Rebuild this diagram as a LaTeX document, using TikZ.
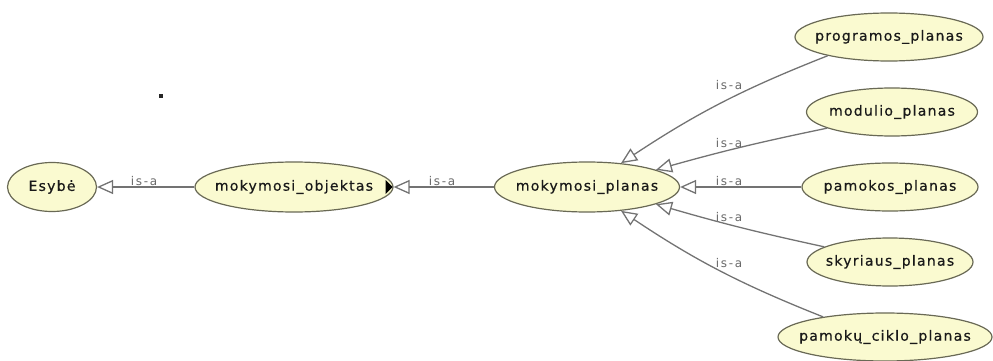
\documentclass[tikz,border=0pt]{standalone}
\usepackage{fontspec}
\setmainfont{DejaVu Sans}
\newfontfamily\nodefont[LetterSpace=9,FakeBold=0.5]{DejaVu Sans}
\newfontfamily\labelfont[LetterSpace=14]{DejaVu Sans}
\usetikzlibrary{arrows.meta,shapes.geometric,calc}
\definecolor{clsfill}{RGB}{250,250,208}
\definecolor{clsborder}{RGB}{105,105,85}
\definecolor{clstext}{RGB}{25,25,25}
\definecolor{edgecol}{RGB}{115,115,115}
\definecolor{lblcol}{RGB}{105,105,105}
\tikzset{
  cls/.style={ellipse, draw=clsborder, fill=clsfill, line width=1.2pt,
    inner xsep=-40pt, inner ysep=-12pt,
    font=\nodefont\fontsize{14}{16}\selectfont, text=clstext},
  isa/.style={draw=edgecol, line width=1.3pt, -{Triangle[open,length=16pt,width=14pt]}},
  lbl/.style={font=\labelfont\fontsize{12}{14}\selectfont, text=lblcol, inner sep=0pt}
}
\begin{document}
\begin{tikzpicture}[x=1pt,y=-1pt]
\useasboundingbox (0,0) rectangle (993,361);
\node[cls, minimum width=89pt, minimum height=49pt] (esy) at (52,187) {Esybė};
\node[cls, minimum width=198pt, minimum height=50pt] (obj) at (294,187) {mokymosi\_objektas};
\node[cls, minimum width=185pt, minimum height=50pt] (plan) at (587,187) {mokymosi\_planas};
\node[cls, minimum width=188pt, minimum height=48pt] (prog) at (889,37) {programos\_planas};
\node[cls, minimum width=171pt, minimum height=48pt] (mod) at (892,112) {modulio\_planas};
\node[cls, minimum width=176pt, minimum height=48pt] (pamk) at (890,187) {pamokos\_planas};
\node[cls, minimum width=166pt, minimum height=48pt] (sky) at (890,262) {skyriaus\_planas};
\node[cls, minimum width=214pt, minimum height=48pt] (cik) at (885,337) {pamokų\_ciklo\_planas};

\draw[isa] (obj) -- (esy);
\draw[isa] (plan) -- (obj);
\draw[isa] (prog.197) to[bend right=6] (plan.35);
\draw[isa] (mod.194) to[bend right=2] (plan.14);
\draw[isa] (pamk) -- (plan);
\draw[isa] (sky.167) to[bend left=2] (plan.-14);
\draw[isa] (cik.162) to[bend left=6] (plan.-35);

\node[lbl] (l1) at (144,181) {is-a};
\node[lbl] (l2) at (442,181) {is-a};
\node[lbl] (l3) at (729,85) {is-a};
\node[lbl] (l4) at (729,143) {is-a};
\node[lbl] (l5) at (729,181) {is-a};
\node[lbl] (l6) at (729,217) {is-a};
\node[lbl] (l7) at (729,263) {is-a};

\fill[black] ($(obj.east)+(-8,-7)$) -- ($(obj.east)+(-8,7)$) -- ($(obj.east)+(-1,0)$) -- cycle;
\fill[black!85] (159,94) rectangle (163,98);
\end{tikzpicture}
\end{document}
